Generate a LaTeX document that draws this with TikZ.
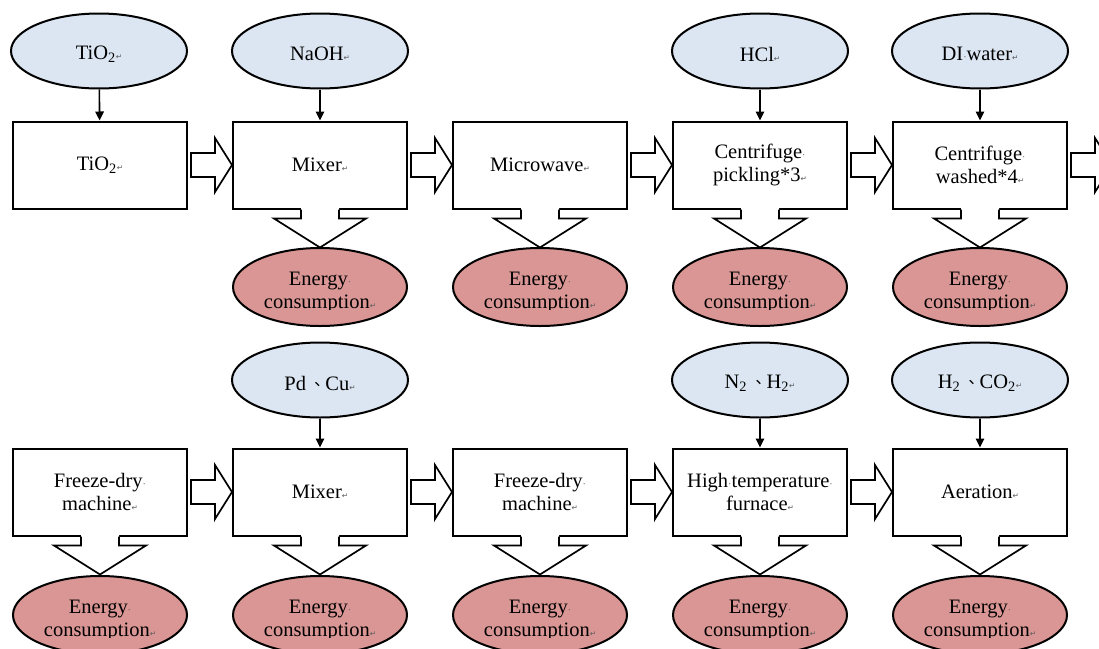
\documentclass[tikz,border=0pt]{standalone}
\usepackage{fontspec}
\setmainfont{Liberation Serif}
\newfontfamily\cjkfont{Noto Sans CJK TC}
\newfontfamily\markfont{DejaVu Sans}
\usetikzlibrary{arrows.meta,calc,shapes.geometric}
\definecolor{srcblue}{HTML}{DCE6F2}
\definecolor{energyred}{HTML}{D99694}
% editing marks shown in the text
\newcommand\parmark{{\markfont\fontsize{7.5}{7.5}\selectfont\color{gray!70!black}↵}}
\newcommand\spmark{{\color{gray!70!black}\fontsize{10}{10}\selectfont·}}
\newcommand\dunhao{{\cjkfont\fontsize{16}{16}\selectfont 、}}
\tikzset{
  txt/.style={font=\fontsize{20.5}{23}\selectfont, align=center},
  procbox/.style={txt, draw, line width=2pt, fill=white, rectangle,
    minimum width=174pt, minimum height=87pt, inner sep=0pt},
  srcnode/.style={draw, line width=2pt, fill=srcblue, ellipse,
    minimum width=176pt, minimum height=75pt, inner sep=0pt},
  srctext/.style={txt, inner sep=0pt},
  energynode/.style={draw, line width=2pt, fill=energyred, ellipse,
    minimum width=174pt, minimum height=78pt, inner sep=0pt},
  energytext/.style={txt, inner sep=0pt},
  feed/.style={line width=1.6pt, -{Triangle[length=9pt,width=8.5pt]}},
  blockarrow/.style={line width=1.7pt, line join=miter},
}
% hollow arrow to the right of a process box
\newcommand\flowarrow[1]{%
  \filldraw[blockarrow, fill=white]
    ($(#1.east)+(3,-12)$) -- ++(24,0) -- ++(0,-15) -- ($(#1.east)+(44,0)$)
    -- ($(#1.east)+(27,27)$) -- ++(0,-15) -- ($(#1.east)+(3,12)$) -- cycle;}
% hollow arrow leaving a process box downwards
\newcommand\energyarrow[1]{%
  \fill[white] ($(#1.south)+(-19,-1.5)$) -- ($(#1.south)+(-19,9)$) -- ++(-27,0)
    -- ($(#1.south)+(0,38)$) -- ($(#1.south)+(46,9)$) -- ++(-27,0)
    -- ($(#1.south)+(19,-1.5)$) -- cycle;
  \draw[blockarrow] ($(#1.south)+(-19,0)$) -- ++(0,9) -- ++(-27,0)
    -- ($(#1.south)+(0,38)$) -- ($(#1.south)+(46,9)$) -- ++(-27,0) -- ++(0,-9);}
% energy ellipse with its label, the label cut off a little below the centre
\newcommand\energy[3]{%
  \node[energynode] (#1) at (#2,#3) {};
  \begin{scope}
    \clip ($(#1.center)+(-86,-40)$) rectangle ($(#1.center)+(86,22)$);
    \node[energytext] (#1t) at ($(#1.center)+(0,5)$) {Energy\spmark\\consumption\parmark};
  \end{scope}}
\begin{document}
\begin{tikzpicture}[x=1pt,y=-1pt]
\useasboundingbox (0,0) rectangle (1099,648);
\clip (0,0) rectangle (1099,648);
\fill[white] (0,0) rectangle (1099,648);

% ---- upper line: TiO2 route ----
\node[srcnode] (s11) at (99,51)  {};
\node[srcnode] (s12) at (320,51) {};
\node[srcnode] (s14) at (760,51) {};
\node[srcnode] (s15) at (980,51) {};
\node[srctext] (s11t) at ($(s11.center)+(0,3)$) {TiO\textsubscript{2}\parmark};
\node[srctext] (s12t) at ($(s12.center)+(0,3)$) {NaOH\parmark};
\node[srctext] (s14t) at ($(s14.center)+(0,3)$) {HCl\parmark};
\node[srctext] (s15t) at ($(s15.center)+(0,3)$) {DI\spmark water\parmark};

\node[procbox] (b11) at (100,165) {TiO\textsubscript{2}\parmark};
\node[procbox] (b12) at (320,165) {Mixer\parmark};
\node[procbox] (b13) at (540,165) {Microwave\parmark};
\node[procbox] (b14) at (760,165) {Centrifuge\spmark\\pickling*3\parmark};
\node[procbox] (b15) at (980,165) {Centrifuge\spmark\\washed*4\parmark};

\energy{e12}{320}{287}
\energy{e13}{540}{287}
\energy{e14}{760}{287}
\energy{e15}{980}{287}

\draw[feed] (s11) -- (b11);
\draw[feed] (s12) -- (b12);
\draw[feed] (s14) -- (b14);
\draw[feed] (s15) -- (b15);

\flowarrow{b11}\flowarrow{b12}\flowarrow{b13}\flowarrow{b14}\flowarrow{b15}
\energyarrow{b12}\energyarrow{b13}\energyarrow{b14}\energyarrow{b15}

% ---- lower line: Pd/Cu loading ----
\node[srcnode] (s22) at (320,380) {};
\node[srcnode] (s24) at (760,380) {};
\node[srcnode] (s25) at (980,380) {};
\node[srctext] (s22t) at ($(s22.center)+(0,3)$) {Pd\,\dunhao Cu\parmark};
\node[srctext] (s24t) at ($(s24.center)+(0,3)$) {N\textsubscript{2}\,\dunhao H\textsubscript{2}\parmark};
\node[srctext] (s25t) at ($(s25.center)+(0,3)$) {H\textsubscript{2}\,\dunhao CO\textsubscript{2}\parmark};

\node[procbox] (b21) at (100,492) {Freeze-dry\spmark\\machine\parmark};
\node[procbox] (b22) at (320,492) {Mixer\parmark};
\node[procbox] (b23) at (540,492) {Freeze-dry\spmark\\machine\parmark};
\node[procbox] (b24) at (760,492) {High\spmark temperature\spmark\\furnace\parmark};
\node[procbox] (b25) at (980,492) {Aeration\parmark};

\energy{e21}{100}{615}
\energy{e22}{320}{615}
\energy{e23}{540}{615}
\energy{e24}{760}{615}
\energy{e25}{980}{615}

\draw[feed] (s22) -- (b22);
\draw[feed] (s24) -- (b24);
\draw[feed] (s25) -- (b25);

\flowarrow{b21}\flowarrow{b22}\flowarrow{b23}\flowarrow{b24}
\energyarrow{b21}\energyarrow{b22}\energyarrow{b23}\energyarrow{b24}\energyarrow{b25}
\end{tikzpicture}
\end{document}
